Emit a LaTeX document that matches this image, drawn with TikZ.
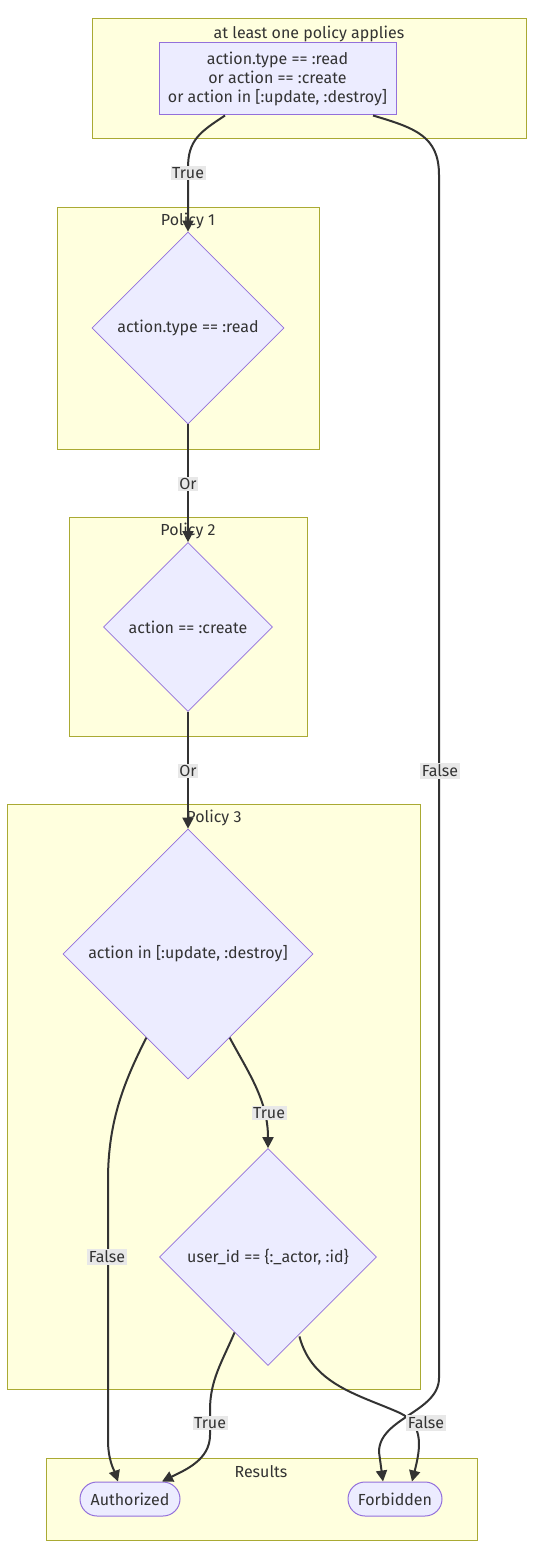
\documentclass[tikz,border=0pt]{standalone}
\usepackage{fontspec}
\setmainfont{Fira Sans}
\usetikzlibrary{shapes.geometric,arrows.meta}
\definecolor{clfill}{HTML}{FFFFDE}
\definecolor{clstroke}{HTML}{AAAA33}
\definecolor{ndfill}{HTML}{ECECFF}
\definecolor{ndstroke}{HTML}{9370DB}
\definecolor{edgec}{HTML}{333333}
\definecolor{lblbg}{HTML}{E8E8E8}
\definecolor{txt}{HTML}{333333}
\begin{document}
\begin{tikzpicture}[x=1pt,y=-1pt,
  every node/.style={font=\fontsize{16}{19}\selectfont, text=txt},
  cluster/.style={draw=clstroke, fill=clfill, line width=1pt, inner sep=0pt},
  ctitle/.style={inner sep=0pt},
  dia/.style={shape=diamond, draw=ndstroke, fill=ndfill, line width=0.7pt, inner sep=0pt, minimum width=#1, minimum height=#1},
  boxnode/.style={draw=ndstroke, fill=ndfill, line width=1pt, align=center, inner sep=0pt},
  stadium/.style={draw=ndstroke, fill=ndfill, line width=1pt, rounded corners=17pt, minimum height=34pt, inner sep=0pt},
  edge/.style={draw=edgec, line width=2pt, -{Triangle[length=11pt,width=11pt]}},
  lbl/.style={fill=lblbg, inner sep=1.5pt}
]
\useasboundingbox (0,0) rectangle (542,1560);
\fill[white] (0,0) rectangle (542,1560);

% clusters
\node[cluster, minimum width=434pt, minimum height=120pt] (c0) at (309,79) {};
\node[ctitle] (c0t) at (309,34) {at least one policy applies};
\node[cluster, minimum width=262pt, minimum height=242pt] (c1) at (188,328) {};
\node[ctitle] (c1t) at (188,221) {Policy 1};
\node[cluster, minimum width=238pt, minimum height=219pt] (c2) at (188,626.5) {};
\node[ctitle] (c2t) at (188,531) {Policy 2};
\node[cluster, minimum width=413pt, minimum height=585pt] (c3) at (213.5,1096.5) {};
\node[ctitle] (c3t) at (214,818) {Policy 3};
\node[cluster, minimum width=431pt, minimum height=82pt] (c4) at (261.5,1499) {};
\node[ctitle] (c4t) at (261,1472) {Results};

% nodes
\node[boxnode, minimum width=237pt, minimum height=72pt] (top) at (277.5,79)
  {action.type == :read\\or action == :create\\or action in [:update, :destroy]};
\node[dia=192pt] (d1) at (188,328) {action.type == :read};
\node[dia=169pt] (d2) at (188,627) {action == :create};
\node[dia=250pt] (d3) at (188,954) {action in [:update, :destroy]};
\node[dia=217pt] (d4) at (268,1257) {user\_id == \{:\_actor, :id\}};
\node[stadium, minimum width=100pt] (auth) at (130,1499) {Authorized};
\node[stadium, minimum width=94pt] (forb) at (395,1499) {Forbidden};

% edges
\draw[edge] ([xshift=-52.5pt]top.south) .. controls (200,132) and (188,140) .. (188,168) -- (d1.north);
\draw[edge] ([xshift=95.5pt]top.south) .. controls (415,128) and (439,136) .. (439,175) -- (439,1378)
  .. controls (439,1412) and (379,1418) .. (379,1452) -- ([xshift=-12pt]forb.north);
\draw[edge] (d1.south) -- (d2.north);
\draw[edge] (d2.south) -- (d3.north);
\draw[edge] (d3.south west) ++(21pt,-21pt) coordinate (d3l)
  (d3l) .. controls (125,1080) and (108,1120) .. (108,1180) -- (108,1440)
  .. controls (108,1460) and (114,1470) .. ([xshift=-12pt]auth.north);
\draw[edge] (d3.south east) ++(-21pt,-21pt) coordinate (d3r)
  (d3r) .. controls (248,1072) and (268,1100) .. (d4.north);
\draw[edge] (d4.south west) ++(21pt,-21pt) coordinate (d4l)
  (d4l) .. controls (222,1362) and (210,1380) .. (210,1410) -- (210,1435)
  .. controls (210,1460) and (185,1470) .. ([xshift=32pt]auth.north);
\draw[edge] (d4.south east) ++(-23pt,-25pt) coordinate (d4r)
  (d4r) .. controls (312,1385) and (360,1395) .. (400,1413)
  .. controls (425,1425) and (420,1450) .. ([xshift=17pt]forb.north);

% edge labels
\node[lbl] (l1) at (188,173) {True};
\node[lbl] (l2) at (440,771) {False};
\node[lbl] (l3) at (188,484) {Or};
\node[lbl] (l4) at (188,771) {Or};
\node[lbl] (l5) at (107,1257) {False};
\node[lbl] (l6) at (269,1113) {True};
\node[lbl] (l7) at (210,1423) {True};
\node[lbl] (l8) at (426,1423) {False};
\end{tikzpicture}
\end{document}
